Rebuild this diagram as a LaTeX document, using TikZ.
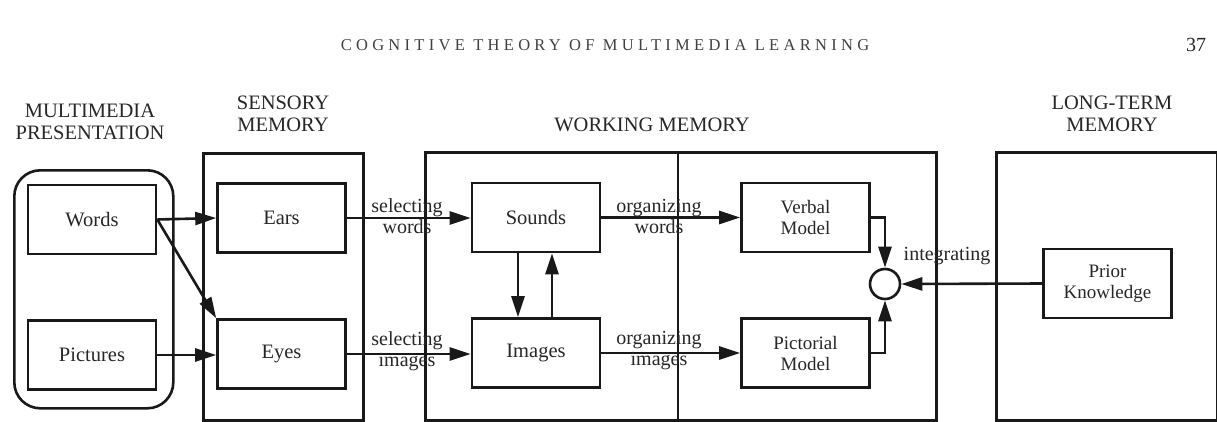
\documentclass[tikz,border=0pt]{standalone}
\usepackage{fontspec}
\setmainfont{Liberation Serif}
\usetikzlibrary{arrows.meta}
\begin{document}
\begin{tikzpicture}[x=1pt,y=-1pt,
  every node/.style={inner sep=0pt, text=black!85},
  box/.style={draw=black!90, line width=2.6pt, minimum width=128pt, minimum height=69pt, align=center, font=\fontsize{20.5}{21}\selectfont},
  box2/.style={box, font=\fontsize{19}{21}\selectfont},
  container/.style={draw=black!90, line width=2.6pt, anchor=north west},
  head/.style={align=center, font=\fontsize{20.5}{22}\selectfont},
  lab/.style={align=center, font=\fontsize{20}{21}\selectfont},
  conn/.style={line width=2.6pt, draw=black!90, -{Triangle[length=21pt,width=13pt]}},
  plain/.style={line width=2.8pt, draw=black!90}
]
\useasboundingbox (0,0) rectangle (1217,421);
% titles
\node[font=\fontsize{16.5}{18}\selectfont\addfontfeature{LetterSpace=26}, text=black!75] (title) at (605,45) {COGNITIVE THEORY OF MULTIMEDIA LEARNING};
\node[font=\fontsize{20}{20}\selectfont] (page) at (1196,45) {37};
\node[head] (hMP) at (90,122) {MULTIMEDIA\\PRESENTATION};
\node[head] (hSM) at (283,114) {SENSORY\\MEMORY};
\node[head] (hWM) at (652,125) {WORKING MEMORY};
\node[head] (hLT) at (1112,114) {LONG-TERM\\MEMORY};
% containers
\node[container, rounded corners=26pt, minimum width=159pt, minimum height=238pt] (mp) at (13,169) {};
\node[container, minimum width=160pt, minimum height=267pt] (sm) at (202,152) {};
\node[container, minimum width=511pt, minimum height=268pt] (wm) at (424,151) {};
\node[container, minimum width=221pt, minimum height=268pt] (lt) at (995,151) {};
\coordinate (divtop) at (678,151);
\coordinate (divbot) at (678,419);
\draw[plain] (divtop) -- (divbot);
% boxes
\node[box] (words) at (92,219.5) {Words};
\node[box] (pictures) at (92,355) {Pictures};
\node[box] (ears) at (281.5,218) {Ears};
\node[box] (eyes) at (281.5,354) {Eyes};
\node[box] (sounds) at (536,217.5) {Sounds};
\node[box] (images) at (536,353) {Images};
\node[box2] (verbal) at (805.5,217.5) {Verbal\\Model};
\node[box2] (pictorial) at (805.5,353) {Pictorial\\Model};
\node[box2] (prior) at (1107.5,283.5) {Prior\\Knowledge};
\node[draw=black!90, line width=2.6pt, circle, minimum size=30pt] (integ) at (885,284) {};
% connectors
\draw[conn] (words.east) -- (ears.west);
\draw[conn] (words.east) -- (eyes.north west);
\draw[conn] (pictures.east) -- (eyes.west |- pictures.east);
\draw[conn] (ears.east) -- (sounds.west |- ears.east);
\draw[conn] (eyes.east) -- (images.west |- eyes.east);
\draw[conn] ([xshift=-18pt]sounds.south) -- ([xshift=-18pt]images.north);
\draw[conn] ([xshift=16pt]images.north) -- ([xshift=16pt]sounds.south);
\draw[conn] (sounds.east) -- (verbal.west);
\draw[conn] (images.east) -- (pictorial.west);
\draw[conn] (verbal.east) -| (integ.north);
\draw[conn] (pictorial.east) -| (integ.south);
\draw[conn] (prior.west) -- (integ.east);
% labels
\node[lab] (l1) at (407,216) {selecting\\words};
\node[lab] (l2) at (407,351) {selecting\\images};
\node[lab] (l3) at (659,216) {organizing\\words};
\node[lab] (l4) at (659,351) {organizing\\images};
\node[lab] (l5) at (947,256) {integrating};
\end{tikzpicture}
\end{document}
